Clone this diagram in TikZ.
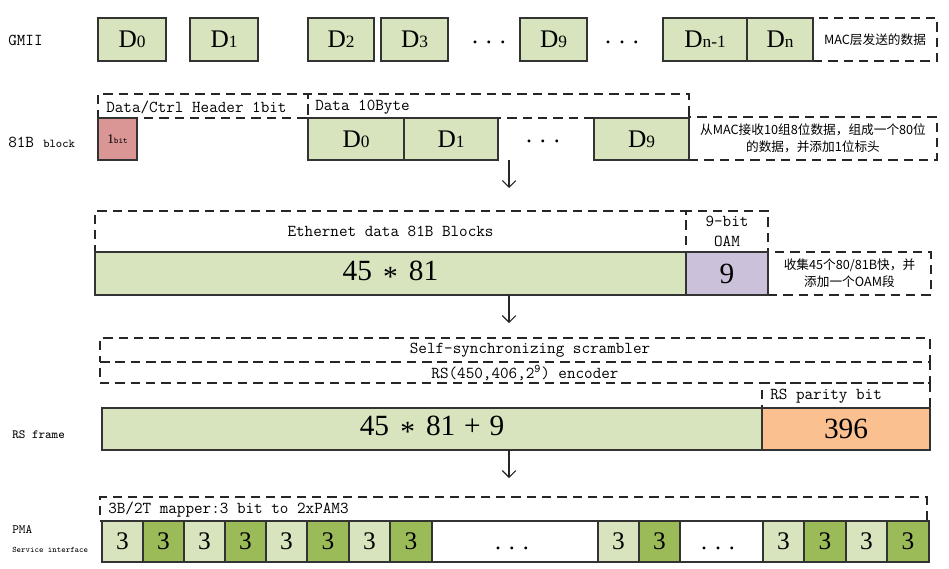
\documentclass[tikz,border=0pt]{standalone}
\usepackage{fontspec}
\setmainfont{Liberation Serif}
\newfontfamily\cjk{Noto Sans CJK SC}
\usetikzlibrary{arrows.meta}
\definecolor{lg}{HTML}{D7E4BD}
\definecolor{dg}{HTML}{9BBB59}
\definecolor{pu}{HTML}{CCC1DA}
\definecolor{og}{HTML}{FAC090}
\definecolor{rd}{HTML}{D99694}
\newcommand{\dfont}{\fontsize{19}{19}\selectfont}
\newcommand{\nfont}{\fontsize{22}{22}\selectfont}
\newcommand{\cfont}{\fontsize{19}{19}\selectfont}
\newcommand{\mfont}{\ttfamily\fontsize{12.5}{15}\selectfont}
\newcommand{\zfont}{\cjk\fontsize{9.5}{12.5}\selectfont}
\newcommand{\sbs}[1]{{\fontsize{13}{13}\selectfont #1}}
\newcommand{\mystar}{\hspace{0.38em}\raisebox{-0.22em}{*}\hspace{0.38em}}
\newcommand{\myplus}{\hspace{0.3em}+\hspace{0.3em}}
\newcommand{\mkbox}[7]{\node[#2,minimum width={(#5-#3)*0.75pt},minimum height={(#6-#4)*0.75pt}] (#1) at ({(#3+#5)/2},{(#4+#6)/2}) {#7};}
\begin{document}
\begin{tikzpicture}[x=0.75pt,y=-0.75pt,
  box/.style={draw=black!80,line width=0.9pt,inner sep=0pt,fill=lg},
  dbox/.style={draw=black!85,line width=0.9pt,dash pattern=on 7pt off 4.5pt,inner sep=0pt},
  arr/.style={draw=black!85,line width=0.8pt,-{Straight Barb[length=5pt,width=10pt]}},
  lbl/.style={anchor=west,inner sep=0pt},
  dots/.style={inner sep=0pt,font=\fontsize{18}{18}\selectfont}]
\useasboundingbox (0,0) rectangle (949,568);
% ---------- GMII
\node[lbl,font=\mfont] (lgmii) at (8,40) {GMII};
\mkbox{gc}{dbox,font=\zfont}{813}{18}{937}{61}{MAC层发送的数据}
\mkbox{g0}{box,font=\dfont}{98}{18}{166}{61}{D\sbs{0}}
\mkbox{g1}{box,font=\dfont}{190}{18}{258}{61}{D\sbs{1}}
\mkbox{g2}{box,font=\dfont}{308}{18}{374}{61}{D\sbs{2}}
\mkbox{g3}{box,font=\dfont}{381}{18}{448}{61}{D\sbs{3}}
\mkbox{g9}{box,font=\dfont}{520}{18}{587}{61}{D\sbs{9}}
\mkbox{gn1}{box,font=\dfont}{663}{18}{747}{61}{D\sbs{n-1}}
\mkbox{gn}{box,font=\dfont}{747}{18}{813}{61}{D\sbs{n}}
\node[dots] (gd1) at (489,42) {.\hspace{6pt}.\hspace{6pt}.};
\node[dots] (gd2) at (622,42) {.\hspace{6pt}.\hspace{6pt}.};
% ---------- 81B block
\node[lbl] (l81) at (8,142) {{\mfont 81B}\hspace{7pt}{\ttfamily\fontsize{9}{10}\selectfont block}};
\mkbox{hdr}{dbox}{98}{94}{308}{118}{}
\mkbox{dat}{dbox}{308}{94}{689}{118}{}
\node[lbl,font=\mfont] (thdr) at (106,107) {Data/Ctrl Header 1bit};
\node[lbl,font=\mfont] (tdat) at (315,107) {Data 10Byte};
\mkbox{cm1}{dbox,font=\zfont,align=center}{689}{117}{937}{160}{从MAC接收10组8位数据，组成一个80位\\的数据，并添加1位标头}
\mkbox{bit}{box,fill=rd}{98}{118}{137}{160}{{\fontsize{10}{10}\selectfont 1}{\ttfamily\fontsize{6.5}{7}\selectfont bit}}
\mkbox{b0}{box,font=\dfont}{308}{118}{404}{160}{D\sbs{0}}
\mkbox{b1}{box,font=\dfont}{404}{118}{498}{160}{D\sbs{1}}
\mkbox{b9}{box,font=\dfont}{594}{118}{689}{160}{D\sbs{9}}
\node[dots] (bd) at (543,141) {.\hspace{6pt}.\hspace{6pt}.};
% arrow 1
\coordinate (a1s) at (509,160);
\coordinate (a1e) at (509,188);
\draw[arr] (a1s) -- (a1e);
% ---------- 81B blocks + OAM
\mkbox{eth}{dbox,font=\mfont}{95}{211}{686}{252}{Ethernet data 81B Blocks}
\mkbox{oamh}{dbox,font=\mfont,align=center}{686}{211}{768}{252}{9-bit\\OAM}
\mkbox{cm3}{dbox,font=\zfont,align=center}{768}{252}{931}{295}{收集45个80/81B快，并\\添加一个OAM段}
\mkbox{blk}{box,font=\nfont}{95}{252}{686}{295}{45\mystar 81}
\mkbox{oam}{box,fill=pu,font=\nfont}{686}{252}{768}{295}{9}
% arrow 2
\coordinate (a2s) at (509,295);
\coordinate (a2e) at (509,323);
\draw[arr] (a2s) -- (a2e);
% ---------- RS frame
\node[lbl,font=\ttfamily\fontsize{9.4}{10}\selectfont] (lrs) at (12,435) {RS frame};
\mkbox{scr}{dbox}{100}{338}{930}{362}{}
\mkbox{enc}{dbox}{100}{362}{930}{383}{}
\mkbox{par}{dbox}{762}{383}{930}{408}{}
\node[font=\mfont,inner sep=0pt] (tscr) at (530,350) {Self-synchronizing scrambler};
\node[font=\mfont,inner sep=0pt] (tenc) at (525,373) {RS(450,406,2\textsuperscript{9}) encoder};
\node[lbl,font=\mfont] (tpar) at (770,396) {RS parity bit};
\mkbox{rsd}{box,font=\nfont}{102}{408}{762}{450}{45\mystar 81\myplus 9}
\mkbox{rsp}{box,fill=og,font=\nfont}{762}{408}{930}{450}{396}
% arrow 3
\coordinate (a3s) at (509,450);
\coordinate (a3e) at (509,478);
\draw[arr] (a3s) -- (a3e);
% ---------- PMA
\node[lbl,font=\ttfamily\fontsize{9.5}{10}\selectfont] (lpma) at (12,530) {PMA};
\node[lbl,font=\ttfamily\fontsize{6.3}{7}\selectfont] (lsi) at (12,550) {Service interface};
\mkbox{map}{dbox}{100}{497}{927}{521}{}
\node[lbl,font=\mfont] (tmap) at (108,510) {3B/2T mapper:3 bit to 2xPAM3};
\mkbox{c1}{box,fill=lg,font=\cfont}{102}{521}{143}{562}{3}
\mkbox{c2}{box,fill=dg,font=\cfont}{143}{521}{184}{562}{3}
\mkbox{c3}{box,fill=lg,font=\cfont}{184}{521}{225}{562}{3}
\mkbox{c4}{box,fill=dg,font=\cfont}{225}{521}{266}{562}{3}
\mkbox{c5}{box,fill=lg,font=\cfont}{266}{521}{307}{562}{3}
\mkbox{c6}{box,fill=dg,font=\cfont}{307}{521}{349}{562}{3}
\mkbox{c7}{box,fill=lg,font=\cfont}{349}{521}{390}{562}{3}
\mkbox{c8}{box,fill=dg,font=\cfont}{390}{521}{432}{562}{3}
\mkbox{w1}{box,fill=white}{432}{521}{598}{562}{}
\mkbox{c9}{box,fill=lg,font=\cfont}{598}{521}{639}{562}{3}
\mkbox{c10}{box,fill=dg,font=\cfont}{639}{521}{680}{562}{3}
\mkbox{w2}{box,fill=white}{680}{521}{763}{562}{}
\mkbox{c11}{box,fill=lg,font=\cfont}{763}{521}{804}{562}{3}
\mkbox{c12}{box,fill=dg,font=\cfont}{804}{521}{846}{562}{3}
\mkbox{c13}{box,fill=lg,font=\cfont}{846}{521}{887}{562}{3}
\mkbox{c14}{box,fill=dg,font=\cfont}{887}{521}{929}{562}{3}
\node[dots] (pd1) at (512,548) {.\hspace{6pt}.\hspace{6pt}.};
\node[dots] (pd2) at (718,548) {.\hspace{6pt}.\hspace{6pt}.};
\end{tikzpicture}
\end{document}
